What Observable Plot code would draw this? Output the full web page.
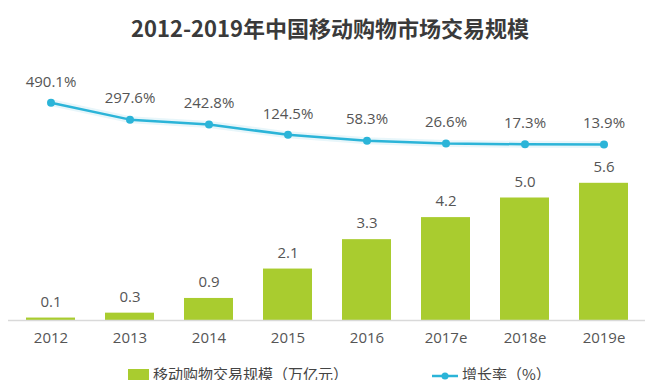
<!DOCTYPE html>
<html>
<head>
<meta charset="utf-8">
<script src="https://cdn.jsdelivr.net/npm/d3@7"></script>
<script src="https://cdn.jsdelivr.net/npm/@observablehq/plot@0.6"></script>
<style>
  html, body { margin: 0; padding: 0; background: #fff; }
  #wrap { position: relative; width: 660px; height: 380px; overflow: hidden; font-family: "Open Sans", "Noto Sans CJK SC", sans-serif; }
  #title { position: absolute; left: 0; top: 12px; width: 660px; text-align: center; font-family: "Noto Sans CJK SC", sans-serif; font-weight: 700; font-size: 22px; line-height: 30px; color: #3a3a3a; }
  #chart { position: absolute; left: 0; top: 50px; }
  .leg { position: absolute; top: 363px; display: flex; align-items: center; font-family: "Noto Sans CJK SC", sans-serif; font-size: 15px; color: #444; line-height: 22px; }
  .leg svg { margin-right: 3px; }
</style>
</head>
<body>
<div id="wrap">
  <div id="title">2012-2019年中国移动购物市场交易规模</div>
  <div id="chart"></div>
  <div class="leg" style="left:128px;"><svg width="22" height="14"><rect x="0" y="2" width="21" height="13" fill="#a9cc2f"></rect></svg><span>移动购物交易规模（万亿元）</span></div>
  <div class="leg" style="left:431px;"><svg width="28" height="14"><line x1="1" x2="27" y1="9" y2="9" stroke="#2bb4d8" stroke-width="2.5"></line><circle cx="14" cy="9" r="3.5" fill="#2bb4d8"></circle></svg><span>增长率（%）</span></div>
</div>
<script>
const years = ["2012", "2013", "2014", "2015", "2016", "2017e", "2018e", "2019e"];
const volume = [0.1, 0.3, 0.9, 2.1, 3.3, 4.2, 5.0, 5.6];
const growth = [490.1, 297.6, 242.8, 124.5, 58.3, 26.6, 17.3, 13.9];

const barColor = "#a9cc2f";
const lineColor = "#2bb4d8";

// secondary axis: growth (%) mapped into the bar value space
const g2y = d3.scaleLinear().domain([0, 490.1]).range([7.13, 8.89]);

const rows = years.map((y, i) => ({year: y, v: volume[i], g: growth[i], gy: g2y(growth[i])}));

const chart = Plot.plot({
  width: 660,
  height: 310,
  marginLeft: 8,
  marginRight: 15,
  marginTop: 25,
  marginBottom: 40,
  style: {fontFamily: "'Open Sans', sans-serif", background: "transparent"},
  x: {domain: years, paddingInner: 0.38, paddingOuter: 0.205, label: null},
  y: {domain: [0, 10], axis: null},
  marks: [
    Plot.barY(rows, {x: "year", y: "v", fill: barColor}),
    Plot.ruleY([0], {stroke: "#d9d9d9", strokeWidth: 1.5}),
    Plot.axisX({tickSize: 0, tickPadding: 12, fontSize: 15, color: "#555", label: null}),
    Plot.text(rows, {x: "year", y: "v", text: d => d.v.toFixed(1), dy: -16, fontSize: 15, fill: "#555"}),
    Plot.line(rows, {x: "year", y: "gy", stroke: "#e2f4f9", strokeWidth: 7, strokeOpacity: 0.8}),
    Plot.line(rows, {x: "year", y: "gy", stroke: lineColor, strokeWidth: 2.5}),
    Plot.dot(rows, {x: "year", y: "gy", r: 4, fill: lineColor}),
    Plot.text(rows, {x: "year", y: "gy", text: d => d.g.toFixed(1) + "%", dy: -21, fontSize: 15, fill: "#555"})
  ]
});
document.getElementById("chart").appendChild(chart);
</script>
</body>
</html>
